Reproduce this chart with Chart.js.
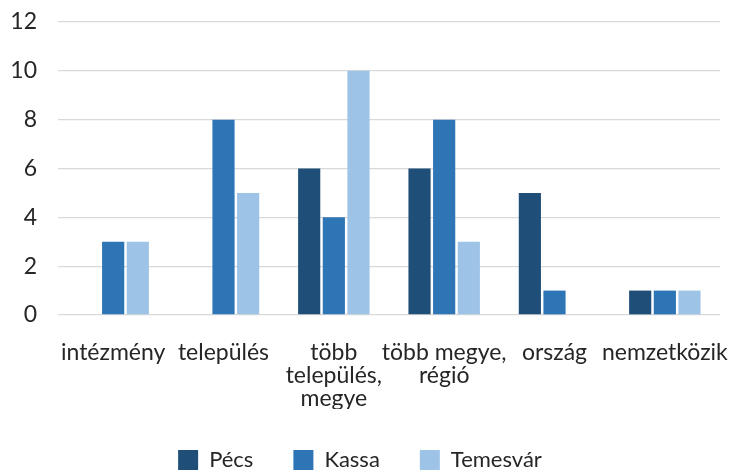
<!DOCTYPE html>
<html>
<head>
<meta charset="utf-8">
<script src="https://cdn.jsdelivr.net/npm/chart.js@4/dist/chart.umd.min.js"></script>
<style>
  html, body { margin: 0; padding: 0; background: #fff; }
  #wrap { width: 729px; height: 471px; }
</style>
</head>
<body>
<div id="wrap"><canvas id="grafikon"></canvas></div>
<script>
// kategóriák és értékek
var kategoriak = [
    'intézmény',
    'település',
    ['több', 'település,', 'megye'],
    ['több megye,', 'régió'],
    'ország',
    'nemzetközik'
];
var pecs = [0, 0, 6, 6, 5, 1];
var kassa = [3, 8, 4, 8, 1, 1];
var temesvar = [3, 5, 10, 3, 0, 1];
var yTickek = [0, 2, 4, 6, 8, 10, 12];

Chart.defaults.font.family = 'Lato, "Open Sans", sans-serif';
Chart.defaults.color = '#262626';

var ctx = document.getElementById('grafikon').getContext('2d');
var chart = new Chart(ctx, {
    type: 'bar',
    data: {
        labels: kategoriak,
        datasets: [
            { label: 'Pécs', data: pecs, backgroundColor: '#1F4E79' },
            { label: 'Kassa', data: kassa, backgroundColor: '#2E75B6' },
            { label: 'Temesvár', data: temesvar, backgroundColor: '#9DC3E6' }
        ]
    },
    options: {
        responsive: true,
        maintainAspectRatio: false,
        animation: false,
        layout: { padding: { left: 0, right: 9, top: 0, bottom: -10 } },
        datasets: {
            bar: { barPercentage: 0.9, categoryPercentage: 0.67 }
        },
        scales: {
            x: {
                grid: { display: false, drawTicks: false },
                border: { display: false },
                ticks: {
                    font: { size: 23, lineHeight: 1.0 },
                    padding: 26,
                    maxRotation: 0,
                    autoSkip: false
                },
                afterFit: function (axis) {
                    // a címkék kilóghatnak oldalt, a rajzterület ne szűküljön
                    axis.paddingLeft = 0;
                    axis.paddingRight = 0;
                    axis.height = 94;
                }
            },
            y: {
                min: 0,
                max: 12,
                afterBuildTicks: function (axis) {
                    axis.ticks = yTickek.map(function (v) { return { value: v }; });
                },
                grid: { color: '#d9d9d9', lineWidth: 1.3, drawTicks: false },
                border: { display: false },
                ticks: { font: { size: 23 }, padding: 21 },
                afterFit: function (axis) {
                    axis.width = 58;
                    axis.paddingTop = 22;
                    axis.paddingBottom = 0;
                }
            }
        },
        plugins: {
            legend: {
                position: 'bottom',
                labels: {
                    boxWidth: 20,
                    boxHeight: 20,
                    padding: 40,
                    font: { size: 22 }
                }
            },
            tooltip: { enabled: false }
        }
    }
});
</script>
</body>
</html>
